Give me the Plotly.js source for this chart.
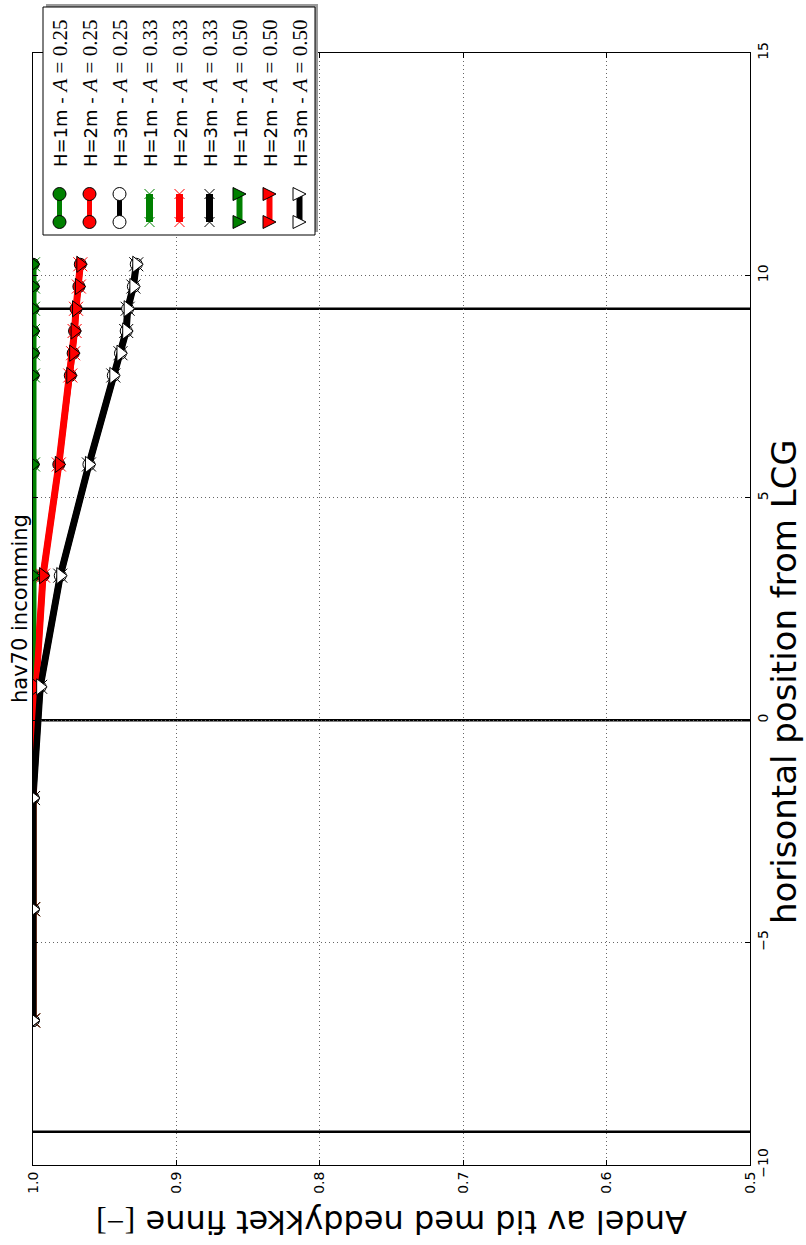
<!DOCTYPE html>
<html><head><meta charset="utf-8">
<script src="https://cdn.plot.ly/plotly-3.0.1.min.js"></script>
<style>html,body{margin:0;padding:0;background:#fff}#chart{width:806px;height:1245px}</style>
</head><body><div id="chart"></div>
<script>
// ---------------- data ----------------
const positions = [-6.75, -4.25, -1.75, 0.75, 3.25, 5.75, 7.75, 8.25, 8.75, 9.25, 9.75, 10.25];
const fracH1 = [1.0, 1.0, 1.0, 1.0, 1.0, 1.0, 1.0, 1.0, 1.0, 1.0, 1.0, 1.0];
const fracH2 = [1.0, 1.0, 1.0, 0.998, 0.993, 0.982, 0.974, 0.972, 0.971, 0.970, 0.968, 0.967];
const fracH3 = [1.0, 1.0, 1.0, 0.995, 0.981, 0.961, 0.944, 0.939, 0.935, 0.934, 0.930, 0.928];
const waveHeights = ['1m', '2m', '3m'];
const amplitudes = ['0.25', '0.33', '0.50'];
const seriesByHeight = [fracH1, fracH2, fracH3];
const refLines = [-9.25, 0, 9.25];
const fracTicks = [0.5, 0.6, 0.7, 0.8, 0.9, 1.0];
const fracTickLabels = ['0.5', '0.6', '0.7', '0.8', '0.9', '1.0'];
const posTicks = [-10, -5, 0, 5, 10, 15];
const titleText = 'hav70 incomming';
const posLabel = 'horisontal position from LCG';
const fracLabel = 'Andel av tid med neddykket finne <span style="font-family:Liberation Serif">[\u2212]</span>';

// ---------------- styles ----------------
const colors = ['#008000', '#ff0000', '#000000'];
const fills = ['#008000', '#ff0000', '#ffffff'];
const symbols = ['circle', 'x-thin-open', 'triangle-right'];
const widths = [5, 7, 6];
const sizes = [12, 14, 14];

// plot area in pixels
const W = 806, H = 1245;
const L = 33, R = 750, T = 53, B = 1165;
const px = v => (v - L) / (R - L);
const py = v => (B - v) / (B - T);

const traces = [];
amplitudes.forEach((a, ai) => {
  waveHeights.forEach((h, hi) => {
    const isX = symbols[ai] === 'x-thin-open';
    traces.push({
      type: 'scatter', mode: 'lines+markers',
      name: 'H=' + h + ' - A=' + a,
      x: seriesByHeight[hi], y: positions,
      line: {color: colors[hi], width: widths[ai]},
      marker: {
        symbol: symbols[ai], size: sizes[ai],
        color: isX ? colors[hi] : fills[hi],
        line: {color: isX ? colors[hi] : '#000', width: 1}
      },
      showlegend: false, hoverinfo: 'skip'
    });
  });
});

const shapes = [];
refLines.forEach(v => shapes.push({
  type: 'line', xref: 'paper', yref: 'y', x0: 0, x1: 1, y0: v, y1: v,
  line: {color: '#000', width: 2.5}, layer: 'below'
}));

// custom legend (rotated, like the reference)
const lg = {x0: 43, x1: 315, y0: 7, y1: 235};
shapes.push({type: 'rect', xref: 'paper', yref: 'paper', x0: px(lg.x0 + 3), x1: px(lg.x1 + 3),
  y0: py(lg.y1 - 3), y1: py(lg.y0 - 3), fillcolor: '#9a9a9a', line: {width: 0}, layer: 'above'});
shapes.push({type: 'rect', xref: 'paper', yref: 'paper', x0: px(lg.x0), x1: px(lg.x1),
  y0: py(lg.y1), y1: py(lg.y0), fillcolor: '#ffffff', line: {color: '#000', width: 1}, layer: 'above'});

const annotations = [];
let row = 0;
const sy0 = 194, sy1 = 222;
amplitudes.forEach((a, ai) => {
  waveHeights.forEach((h, hi) => {
    const cx = 59.5 + 30 * row;
    shapes.push({type: 'line', xref: 'paper', yref: 'paper', x0: px(cx), x1: px(cx), y0: py(sy0), y1: py(sy1),
      line: {color: colors[hi], width: widths[ai]}, layer: 'above'});
    [sy0, sy1].forEach(cy => {
      if (symbols[ai] === 'circle') {
        const r = 6.5;
        shapes.push({type: 'circle', xref: 'paper', yref: 'paper', x0: px(cx - r), x1: px(cx + r),
          y0: py(cy + r), y1: py(cy - r), fillcolor: fills[hi], line: {color: '#000', width: 1}, layer: 'above'});
      } else if (symbols[ai] === 'x-thin-open') {
        const r = 5;
        shapes.push({type: 'path', xref: 'paper', yref: 'paper',
          path: `M${px(cx - r)},${py(cy - r)}L${px(cx + r)},${py(cy + r)}M${px(cx - r)},${py(cy + r)}L${px(cx + r)},${py(cy - r)}`,
          line: {color: colors[hi], width: 1}, layer: 'above'});
      } else {
        const r = 6.5;
        shapes.push({type: 'path', xref: 'paper', yref: 'paper',
          path: `M${px(cx - r)},${py(cy - r)}L${px(cx - r)},${py(cy + r)}L${px(cx + r)},${py(cy)}Z`,
          fillcolor: fills[hi], line: {color: '#000', width: 1}, layer: 'above'});
      }
    });
    annotations.push({xref: 'paper', yref: 'paper', x: px(cx), y: py(168), xanchor: 'center', yanchor: 'bottom',
      textangle: -90, showarrow: false, borderpad: 0,
      text: 'H=' + h + ' - <span style="font-family:Liberation Serif;font-size:21px"><i>A</i> = ' + a + '</span>',
      font: {family: 'DejaVu Sans', size: 18, color: '#000'}});
    row++;
  });
});

annotations.push({xref: 'paper', yref: 'paper', x: px(20), y: py(609), xanchor: 'center', yanchor: 'middle',
  textangle: -90, showarrow: false, text: titleText, font: {family: 'DejaVu Sans', size: 21, color: '#000'}});
annotations.push({xref: 'paper', yref: 'paper', x: px(784), y: py(682), xanchor: 'center', yanchor: 'middle',
  textangle: -90, showarrow: false, borderpad: 0, text: posLabel, font: {family: 'DejaVu Sans', size: 34, color: '#000'}});
annotations.push({xref: 'paper', yref: 'paper', x: px(391.5), y: py(1222), xanchor: 'center', yanchor: 'middle',
  textangle: 180, showarrow: false, text: fracLabel, font: {family: 'DejaVu Sans', size: 32, color: '#000'}});

const axisCommon = {
  showgrid: true, gridcolor: '#666', griddash: '1px,3px', gridwidth: 1,
  showline: true, linecolor: '#000', linewidth: 1, mirror: 'ticks',
  ticks: 'inside', ticklen: 5, tickcolor: '#000', zeroline: false,
  tickfont: {family: 'DejaVu Sans', size: 14, color: '#000'}, tickangle: -90
};

const layout = {
  width: W, height: H, autosize: false,
  margin: {l: L, r: W - R, t: T, b: H - B, pad: 0},
  paper_bgcolor: '#fff', plot_bgcolor: '#fff', showlegend: false,
  xaxis: Object.assign({}, axisCommon, {range: [1.0, 0.5], tickvals: fracTicks, ticktext: fracTickLabels}),
  yaxis: Object.assign({}, axisCommon, {range: [-10, 15], side: 'right', tickvals: posTicks}),
  shapes: shapes, annotations: annotations
};

Plotly.newPlot('chart', traces, layout, {staticPlot: true, displayModeBar: false});
</script></body></html>
